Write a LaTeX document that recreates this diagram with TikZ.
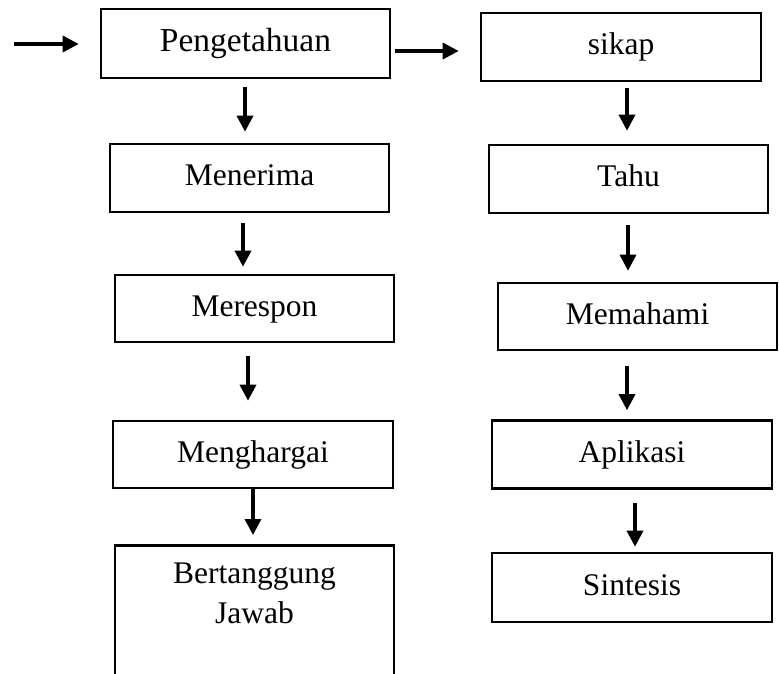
\documentclass[tikz,border=0pt]{standalone}
\usepackage{fontspec}
\setmainfont{Liberation Serif}
\usetikzlibrary{arrows.meta}

\begin{document}
\begin{tikzpicture}[x=1pt, y=-1pt, >={Triangle[length=16pt,width=16pt]}, box/.style={
  % The shape:
  rectangle,
  % The size:
  minimum width=280pt, minimum height=68pt,
  % The border
  line width=2.6pt, draw=black,
      text height=22pt, text depth=7pt,
      font=\fontsize{31.5}{39}\selectfont,
      align=center},
  arr/.style={line width=3.4pt, ->}]
  \useasboundingbox (0,0) rectangle (779,673);
  \clip (0,0) rectangle (779,673);

  % left column
  \node [box, minimum width=289pt, minimum height=69pt, font=\fontsize{33.5}{40}\selectfont] (peng) at (245.5,43.5) {Pengetahuan};
  \node [box, minimum width=279pt] (terima) at (249.5,178) {Menerima};
  \node [box, minimum width=279pt, minimum height=67pt] (respon) at (254.5,308.5) {Merespon};
  \node [box, minimum height=67pt] (harga) at (253,454.5) {Menghargai};
  \node [box, minimum width=279pt, minimum height=160pt, anchor=north] (tanggung) at (254.5,544) {};
  \node [font=\fontsize{31.5}{40}\selectfont, align=center, anchor=north, inner sep=0pt] (tanggungtxt) at (254.5,563) {Bertanggung\\ Jawab};

  % right column
  \node [box] (sikap) at (621,47) {sikap};
  \node [box, minimum width=279pt] (tahu) at (628.5,179) {Tahu};
  \node [box, minimum width=279pt, minimum height=67pt] (paham) at (637.5,316.5) {Memahami};
  \node [box] (aplikasi) at (632,454.5) {Aplikasi};
  \node [box, minimum height=69pt] (sintesis) at (632,587.5) {Sintesis};

  \coordinate (start) at (14,44);
  \draw [arr, shorten >=21pt] (start) -- (peng.west |- start);
  \draw [arr, shorten <=4pt, shorten >=21pt] (peng.east |- 0,51) -- (sikap.west |- 0,51);

  \draw [arr, shorten <=8pt, shorten >=11pt] (peng.south -| 245,0) -- (terima.north -| 245,0);
  \draw [arr, shorten <=10pt, shorten >=7pt] (terima.south -| 243,0) -- (respon.north -| 243,0);
  \draw [arr, shorten <=13pt, shorten >=19pt] (respon.south -| 248,0) -- (harga.north -| 248,0);
  \draw [arr, shorten >=9pt] (harga.south -| 253,0) -- (tanggung.north -| 253,0);

  \draw [arr, shorten <=6pt, shorten >=13pt] (sikap.south -| 627,0) -- (tahu.north -| 627,0);
  \draw [arr, shorten <=11pt, shorten >=11pt] (tahu.south -| 628,0) -- (paham.north -| 628,0);
  \draw [arr, shorten <=15pt, shorten >=9pt] (paham.south -| 627,0) -- (aplikasi.north -| 627,0);
  \draw [arr, shorten <=13pt, shorten >=5pt] (aplikasi.south -| 635,0) -- (sintesis.north -| 635,0);

\end{tikzpicture}
\end{document}
